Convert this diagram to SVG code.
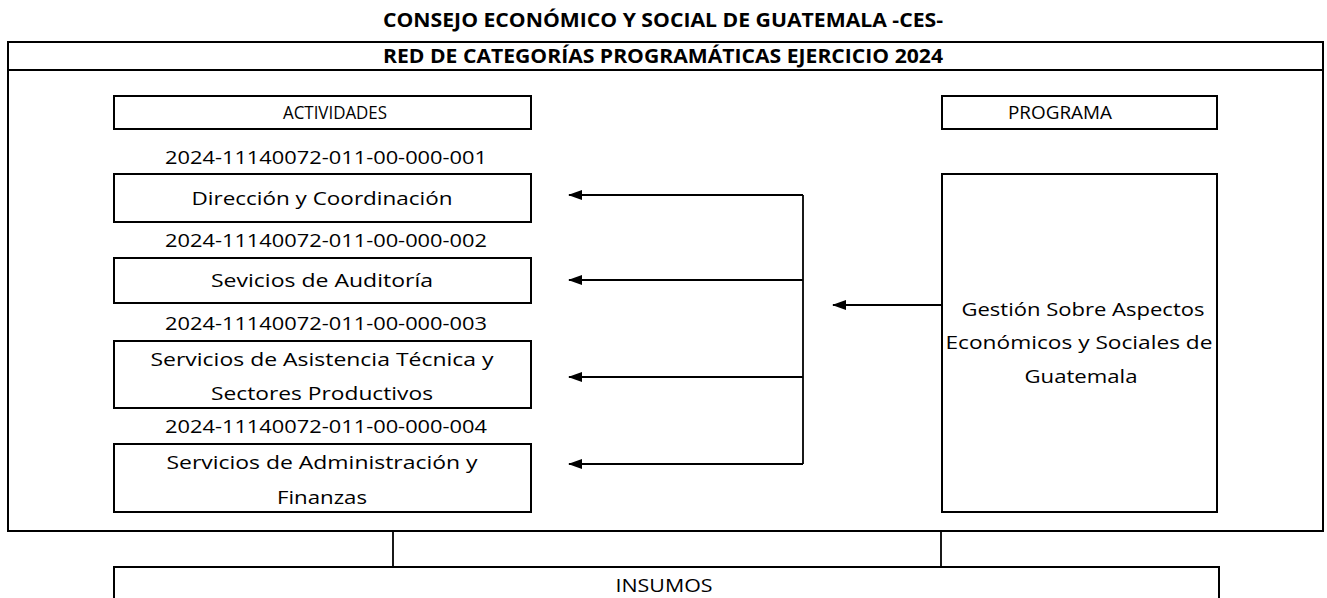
<svg xmlns="http://www.w3.org/2000/svg" width="1327" height="598" viewBox="0 0 1327 598">
<defs>
<marker id="ah" viewBox="0 0 14 10" refX="13" refY="5" markerWidth="14" markerHeight="10" markerUnits="userSpaceOnUse" orient="auto">
<path d="M0,0 L14,5 L0,10 Z" fill="#000"/>
</marker>
<style>
.box{fill:#fff;stroke:#000;stroke-width:2}
.frame{fill:none;stroke:#000;stroke-width:2}
.t{font-family:"Open Sans","Noto Sans","Liberation Sans",sans-serif;font-size:19px;fill:#000;text-anchor:middle}
.b{font-weight:bold}
.ln{fill:none;stroke:#000;stroke-width:1.8}
</style>
</defs>
<rect width="1327" height="598" fill="#fff"/>
<g id="title">
<text class="t b" x="663" y="27" textLength="560" lengthAdjust="spacingAndGlyphs">CONSEJO ECONÓMICO Y SOCIAL DE GUATEMALA -CES-</text>
</g>
<g id="frame">
<rect class="frame" x="8" y="42" width="1315" height="489"/>
<line class="frame" x1="8" y1="70" x2="1323" y2="70"/>
<text class="t b" x="663" y="63" textLength="560" lengthAdjust="spacingAndGlyphs">RED DE CATEGORÍAS PROGRAMÁTICAS EJERCICIO 2024</text>
</g>
<g id="actividades">
<rect class="box" x="114" y="96" width="417" height="33"/>
<text class="t" x="335" y="119" textLength="104" lengthAdjust="spacingAndGlyphs">ACTIVIDADES</text>
</g>
<g id="programa">
<rect class="box" x="942" y="96" width="275" height="33"/>
<text class="t" x="1060" y="119" textLength="104" lengthAdjust="spacingAndGlyphs">PROGRAMA</text>
</g>
<g id="code1"><text class="t" x="326" y="164" textLength="322" lengthAdjust="spacingAndGlyphs">2024-11140072-011-00-000-001</text></g>
<g id="act1">
<rect class="box" x="114" y="174" width="417" height="48"/>
<text class="t" x="322" y="205" textLength="261" lengthAdjust="spacingAndGlyphs">Dirección y Coordinación</text>
</g>
<g id="code2"><text class="t" x="326" y="247" textLength="322" lengthAdjust="spacingAndGlyphs">2024-11140072-011-00-000-002</text></g>
<g id="act2">
<rect class="box" x="114" y="258" width="417" height="45"/>
<text class="t" x="322" y="287" textLength="222" lengthAdjust="spacingAndGlyphs">Sevicios de Auditoría</text>
</g>
<g id="code3"><text class="t" x="326" y="330" textLength="322" lengthAdjust="spacingAndGlyphs">2024-11140072-011-00-000-003</text></g>
<g id="act3">
<rect class="box" x="114" y="341" width="417" height="67"/>
<text class="t" x="322" y="366" textLength="343" lengthAdjust="spacingAndGlyphs">Servicios de Asistencia Técnica y</text>
<text class="t" x="322" y="400" textLength="222" lengthAdjust="spacingAndGlyphs">Sectores Productivos</text>
</g>
<g id="code4"><text class="t" x="326" y="433" textLength="322" lengthAdjust="spacingAndGlyphs">2024-11140072-011-00-000-004</text></g>
<g id="act4">
<rect class="box" x="114" y="444" width="417" height="68"/>
<text class="t" x="322" y="469" textLength="311" lengthAdjust="spacingAndGlyphs">Servicios de Administración y</text>
<text class="t" x="322" y="504" textLength="90" lengthAdjust="spacingAndGlyphs">Finanzas</text>
</g>
<g id="gestion">
<rect class="box" x="942" y="174" width="275" height="338"/>
<text class="t" x="1083" y="316" textLength="243" lengthAdjust="spacingAndGlyphs">Gestión Sobre Aspectos</text>
<text class="t" x="1079" y="349" textLength="267" lengthAdjust="spacingAndGlyphs">Económicos y Sociales de</text>
<text class="t" x="1081" y="383" textLength="113" lengthAdjust="spacingAndGlyphs">Guatemala</text>
</g>
<g id="insumos">
<rect class="box" x="114" y="567" width="1105" height="40"/>
<text class="t" x="664" y="592" textLength="97" lengthAdjust="spacingAndGlyphs">INSUMOS</text>
</g>
<g id="connectors">
<line class="ln" x1="803" y1="195" x2="803" y2="464"/>
<line class="ln" x1="803" y1="195" x2="569" y2="195" marker-end="url(#ah)"/>
<line class="ln" x1="803" y1="280" x2="569" y2="280" marker-end="url(#ah)"/>
<line class="ln" x1="803" y1="377" x2="569" y2="377" marker-end="url(#ah)"/>
<line class="ln" x1="803" y1="464" x2="569" y2="464" marker-end="url(#ah)"/>
<line class="ln" x1="941" y1="305" x2="833" y2="305" marker-end="url(#ah)"/>
<line class="ln" x1="393" y1="531" x2="393" y2="567"/>
<line class="ln" x1="941" y1="531" x2="941" y2="567"/>
</g>
</svg>
